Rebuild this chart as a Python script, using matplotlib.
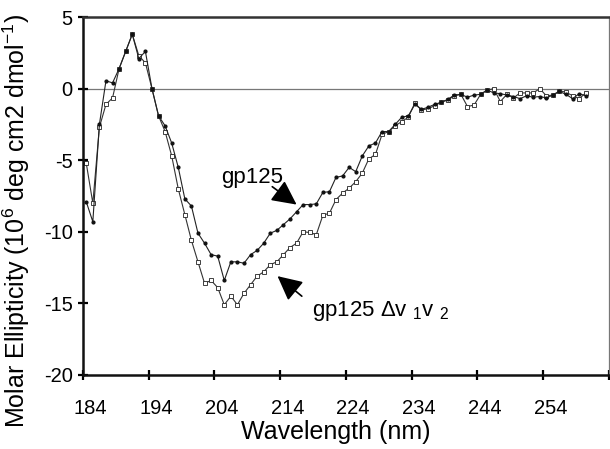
import matplotlib
matplotlib.use("Agg")
import matplotlib.pyplot as plt
import numpy as np

plt.rcParams['font.family'] = ['Liberation Sans', 'DejaVu Sans']
plt.rcParams['mathtext.default'] = 'regular'

# wavelength categories (nm), one point per nm
wavelength = np.arange(184, 261)

# gp125 (small filled markers)
gp125 = [-7.9, -9.3, -2.5, 0.55, 0.4, 1.4, 2.6, 3.8, 2.1, 2.6,
         0.0, -1.9, -2.6, -3.8, -5.5, -7.7, -8.2, -10.1, -10.8, -11.6,
         -11.7, -13.4, -12.1, -12.1, -12.2, -11.6, -11.3, -10.8, -10.1, -9.9,
         -9.5, -9.1, -8.6, -8.1, -8.1, -8.05, -7.25, -7.2, -6.2, -6.1,
         -5.5, -5.8, -4.7, -4.0, -3.8, -3.0, -3.0, -2.5, -2.0, -1.9,
         -1.1, -1.45, -1.3, -1.1, -0.95, -0.75, -0.45, -0.4, -0.6, -0.45,
         -0.4, -0.1, -0.3, -0.35, -0.45, -0.55, -0.7, -0.5, -0.6, -0.55,
         -0.65, -0.45, -0.2, -0.4, -0.7, -0.35, -0.5]

# gp125 delta V1V2 (open squares)
gp125_dv1v2 = [-5.2, -8.0, -2.7, -1.1, -0.65, 1.4, 2.6, 3.8, 2.3, 1.8,
               0.0, -1.9, -3.0, -4.7, -7.0, -8.8, -10.6, -12.1, -13.6, -13.4,
               -13.9, -15.1, -14.5, -15.1, -14.3, -13.7, -13.1, -12.8, -12.3, -12.1,
               -11.6, -11.1, -10.8, -10.0, -10.05, -10.2, -8.85, -8.7, -7.75, -7.3,
               -6.95, -6.5, -5.9, -4.9, -4.6, -3.2, -3.0, -2.6, -2.3, -2.0,
               -1.0, -1.5, -1.4, -1.2, -0.95, -0.8, -0.5, -0.4, -1.25, -1.15,
               -0.4, -0.1, 0.0, -0.9, -0.4, -0.65, -0.3, -0.3, -0.3, 0.0,
               -0.5, -0.45, -0.15, -0.25, -0.5, -0.7, -0.3]

xtick_labels = [184, 194, 204, 214, 224, 234, 244, 254]
yticks = [-20, -15, -10, -5, 0, 5]

fig = plt.figure(figsize=(6.1, 4.49), dpi=100)
ax = fig.add_axes([0.136, 0.165, 0.862, 0.797])

ax.axhline(0, color='#777777', linewidth=0.9, zorder=1)

ax.plot(wavelength, gp125_dv1v2, color='#333333', linewidth=0.8,
        marker='s', markersize=3.4, markerfacecolor='white',
        markeredgecolor='#222222', markeredgewidth=0.6, zorder=2)
ax.plot(wavelength, gp125, color='#222222', linewidth=0.8,
        marker='o', markersize=2.0, markerfacecolor='#111111',
        markeredgecolor='#111111', zorder=3)

ax.set_xlim(wavelength[0] - 0.5, wavelength[-1] + 0.5)
ax.set_ylim(-20, 5)

# category-style axis: labels on categories, tick marks between them
ax.set_xticks([v + 0.6 for v in xtick_labels])
ax.set_xticklabels([str(v) for v in xtick_labels])
ax.tick_params(axis='x', which='major', length=0, pad=17, labelsize=14.5)
ax.set_xticks([v - 0.5 for v in xtick_labels] + [263.5], minor=True)
ax.tick_params(axis='x', which='minor', direction='inout', length=7, width=1.6)

ax.set_yticks(yticks)
ax.set_yticklabels([str(v) for v in yticks])
ax.tick_params(axis='y', direction='inout', length=7, width=1.6, pad=4, labelsize=14.5)

for side in ['left', 'bottom']:
    ax.spines[side].set_linewidth(1.8)
    ax.spines[side].set_color('#111111')
ax.spines['top'].set_linewidth(1.8)
ax.spines['top'].set_color('#333333')
ax.spines['right'].set_linewidth(0.9)
ax.spines['right'].set_color('#777777')

ax.set_xlabel('Wavelength (nm)', fontsize=18)
ax.xaxis.set_label_coords(0.48, -0.125)
ax.set_ylabel('Molar Ellipticity (10$^6$ deg cm2 dmol$^{-1}$)', fontsize=18)
ax.yaxis.set_label_coords(-0.097, 0.43)

head = '-|>,head_length=1.5,head_width=0.75'
ax.text(209.3, -6.2, 'gp125', fontsize=16, ha='center', va='center')
ax.annotate('', xy=(216.0, -8.1), xytext=(212.3, -6.85),
            arrowprops=dict(arrowstyle=head, color='black', lw=1.2,
                            shrinkA=0, shrinkB=0))

ax.text(218.4, -15.5, r'gp125 $\Delta$v $_1$v $_2$', fontsize=16,
        ha='left', va='center')
ax.annotate('', xy=(213.1, -13.1), xytext=(216.8, -14.5),
            arrowprops=dict(arrowstyle=head, color='black', lw=1.2,
                            shrinkA=0, shrinkB=0))

fig.savefig('out.png', dpi=100)
